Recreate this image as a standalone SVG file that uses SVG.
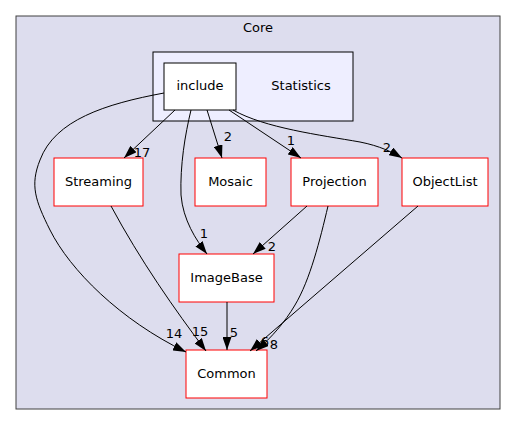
<svg xmlns="http://www.w3.org/2000/svg" width="516" height="425" viewBox="0 0 516 425">
<defs>
<style>
text{font-family:"DejaVu Sans","Liberation Sans",sans-serif;font-size:13px;fill:#000}
.n{fill:#fff;stroke:#ff0000;stroke-width:1}
.e{fill:none;stroke:#000;stroke-width:1}
.l{text-anchor:middle}
</style>
<marker id="a" viewBox="0 0 13 9" refX="13" refY="4.5" markerWidth="13" markerHeight="9" markerUnits="userSpaceOnUse" orient="auto">
<path d="M0,0 L13,4.5 L0,9 z" fill="#000"/>
</marker>
</defs>
<rect width="516" height="425" fill="#fff"/>
<g id="cluster-core">
<rect x="16" y="16" width="484" height="393" fill="#ddddee" stroke="#404040" stroke-width="1"/>
<text x="258" y="32" class="l">Core</text>
</g>
<g id="cluster-statistics">
<rect x="153" y="52" width="200" height="69" fill="#eeeeff" stroke="#000" stroke-width="1"/>
<text x="301" y="90" class="l">Statistics</text>
</g>
<g id="include">
<rect x="164" y="63" width="72" height="47" fill="#fff" stroke="#000" stroke-width="1"/>
<text x="200" y="90" class="l">include</text>
</g>
<g id="streaming">
<rect class="n" x="54" y="158" width="89" height="48"/>
<text x="98.5" y="186" class="l">Streaming</text>
</g>
<g id="mosaic">
<rect class="n" x="195" y="158" width="71" height="48"/>
<text x="230.5" y="186" class="l">Mosaic</text>
</g>
<g id="projection">
<rect class="n" x="291" y="158" width="87" height="48"/>
<text x="334.5" y="186" class="l">Projection</text>
</g>
<g id="objectlist">
<rect class="n" x="402" y="158" width="86" height="48"/>
<text x="445" y="186" class="l">ObjectList</text>
</g>
<g id="imagebase">
<rect class="n" x="179" y="254" width="95" height="48"/>
<text x="226.5" y="282" class="l">ImageBase</text>
</g>
<g id="common">
<rect class="n" x="186" y="350" width="81" height="48"/>
<text x="226.5" y="378" class="l">Common</text>
</g>
<g id="connectors">
<path class="e" marker-end="url(#a)" d="M164,93 C105,104 55,120 40,160 C30,185 35,200 50,230 C70,270 120,320 186,352"/>
<text x="174" y="338" class="l">14</text>
<path class="e" marker-end="url(#a)" d="M175,110 L124,158"/>
<text x="142" y="157" class="l">17</text>
<path class="e" marker-end="url(#a)" d="M191,110 C185,135 180,165 181,195 C183,220 196,240 207,254"/>
<text x="204" y="238" class="l">1</text>
<path class="e" marker-end="url(#a)" d="M207,110 L222,158"/>
<text x="228" y="141" class="l">2</text>
<path class="e" marker-end="url(#a)" d="M229,110 L301,158"/>
<text x="291" y="145" class="l">1</text>
<path class="e" marker-end="url(#a)" d="M233,110 C265,128 320,135 360,142 C380,146 392,152 402,158"/>
<text x="387" y="152" class="l">2</text>
<path class="e" marker-end="url(#a)" d="M111,206 C140,260 175,310 206,351"/>
<text x="200" y="336" class="l">15</text>
<path class="e" marker-end="url(#a)" d="M227,302 L227,350"/>
<text x="234" y="337" class="l">5</text>
<path class="e" marker-end="url(#a)" d="M307,206 L253,254"/>
<text x="272" y="251" class="l">2</text>
<path class="e" marker-end="url(#a)" d="M328,206 C320,240 310,280 295,305 C285,322 272,337 256,351"/>
<text x="265" y="346" class="l">6</text>
<path class="e" marker-end="url(#a)" d="M418,206 L250,351"/>
<text x="274" y="349" class="l">8</text>
</g>
</svg>
